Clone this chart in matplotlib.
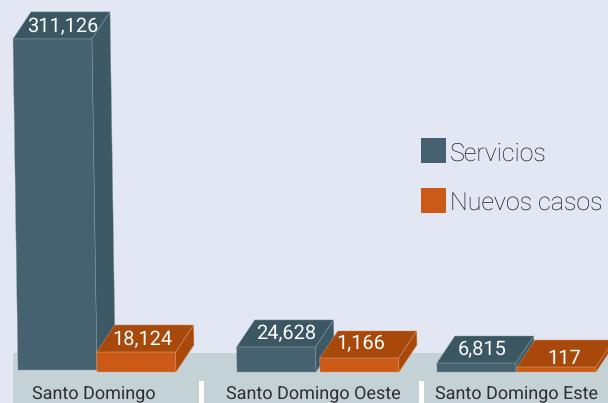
import matplotlib
matplotlib.use('Agg')
import matplotlib.pyplot as plt
from matplotlib.patches import Rectangle

plt.rcParams['font.family'] = ['Roboto', 'DejaVu Sans']
plt.rcParams['text.hinting'] = 'no_hinting'
plt.rcParams['text.hinting_factor'] = 1

categorias = ['Santo Domingo', 'Santo Domingo Oeste', 'Santo Domingo Este']
servicios = [311126, 24628, 6815]
nuevos_casos = [18124, 1166, 117]
# the short bars in the picture are not to scale, heights read off the picture
servicios_alturas = [311126, 23400, 8400]
nuevos_alturas = [18700, 13100, 4700]
leyenda = ['Servicios', 'Nuevos casos']

AZUL = '#466270'
AZUL_TOP = '#3b5763'
AZUL_SIDE = '#3c5965'
NARANJA = '#cb5a18'
NARANJA_TOP = '#a8490b'
NARANJA_SIDE = '#a8490b'
FONDO = '#e3e7f3'
BASE = '#c5d2d5'

# one pixel in value units, the picture is drawn 1:1 on x
U = 934
BASELINE = 372
DX, DY = 18, 27 * U
ANCHO = 79

fig = plt.figure(figsize=(6.08, 4.03), dpi=100, facecolor=FONDO)
ax = fig.add_axes([0, 0, 1, 1])
ax.set_xlim(0, 608)
ax.set_ylim(-(403 - BASELINE) * U, BASELINE * U)
ax.axis('off')

# floor panel and white separators
ax.add_patch(Rectangle((13, -31 * U), 595, 50 * U, fc=BASE, ec='none', zorder=1))
for sep in [199, 419]:
    ax.add_patch(Rectangle((sep, -31 * U), 5, 22 * U, fc='white', ec='none', zorder=2))


def barra_3d(x, alto, frente, top, side, borde, base=0, z=3):
    # tall bars lean to the left going up
    lean = 5 * alto / servicios[0]
    xt = x - lean
    ax.fill([x, x + ANCHO, xt + ANCHO, xt], [base, base, alto, alto],
            fc=frente, ec=borde, lw=0.3, zorder=z)
    ax.fill([xt, xt + ANCHO, xt + ANCHO + DX, xt + DX], [alto, alto, alto + DY, alto + DY],
            fc=top, ec=borde, lw=0.3, zorder=z)
    ax.fill([x + ANCHO, xt + ANCHO, xt + ANCHO + DX, x + ANCHO + DX],
            [base, alto, alto + DY, base + DY],
            fc=side, ec=borde, lw=0.3, zorder=z)
    return xt


pos_azul = [18, 237, 437]
pos_naranja = [97, 320, 517]
bases_azul = [2 * U, 0, 0]
ajuste_azul = [1, 1, -3]
ajuste_naranja = [-3, -8, -1]
ajuste_y_azul = [-1, 0, 0]
ajuste_y_naranja = [-1, 1, -5]

for i in range(3):
    xt = barra_3d(pos_azul[i], servicios_alturas[i], AZUL, AZUL_TOP, AZUL_SIDE, '#8a9fa8',
                  base=bases_azul[i], z=3 + i * 2)
    ax.text(xt + (ANCHO + DX) / 2 + ajuste_azul[i], servicios_alturas[i] + DY / 2 + ajuste_y_azul[i] * U,
            f'{servicios[i]:,}', color='white', fontsize=14.5, ha='center', va='center', zorder=10)
    xt = barra_3d(pos_naranja[i], nuevos_alturas[i], NARANJA, NARANJA_TOP, NARANJA_SIDE, '#d99a70',
                  z=4 + i * 2)
    ax.text(xt + (ANCHO + DX) / 2 + ajuste_naranja[i], nuevos_alturas[i] + DY / 2 + ajuste_y_naranja[i] * U,
            f'{nuevos_casos[i]:,}', color='white', fontsize=14.5, ha='center', va='center', zorder=10)

centros = [94, 313, 517]
for c, nombre in zip(centros, categorias):
    ax.text(c, -22.5 * U, nombre, color='#2e2e2e', fontsize=13, ha='center', va='center', zorder=3)

# legend squares and labels
for color, nombre, top in zip([AZUL, NARANJA], leyenda, [138, 188]):
    ax.add_patch(Rectangle((421, (BASELINE - top - 25) * U), 25, 25 * U, fc=color, ec='none', zorder=3))
    ax.text(450, (BASELINE - top - 16) * U, nombre, color='#0c0c0c', fontsize=18.1, weight='light',
            ha='left', va='center', zorder=3)

fig.savefig('out.png', dpi=100, facecolor=FONDO)
